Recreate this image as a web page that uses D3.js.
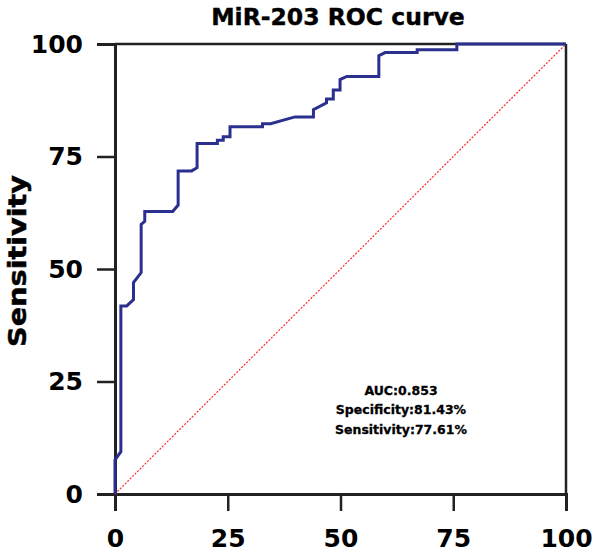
<!DOCTYPE html>
<html><head><meta charset="utf-8">
<script src="https://cdn.jsdelivr.net/npm/d3@7"></script>
<style>body{margin:0;background:#fff}svg{display:block}text{font-family:"DejaVu Sans",sans-serif;font-weight:bold;fill:#000}</style>
</head><body>
<script>
const fpr = [0,0,1.3,1.3,2.6,4.1,4.1,5.8,5.8,6.6,6.6,12.8,14.0,14.0,17.0,18.2,18.2,22.7,22.7,24.0,24.0,25.5,25.5,32.7,32.7,34.5,39.9,44.0,44.0,46.9,46.9,48.4,48.4,49.9,49.9,51.4,58.5,58.5,59.9,67.0,67.0,75.8,75.8,100];
const tpr = [0,7.6,9.4,41.8,41.8,43.2,47.0,49.2,59.9,60.6,62.8,62.8,64.2,71.8,71.8,72.5,77.9,77.9,78.6,78.6,79.4,79.4,81.6,81.6,82.3,82.3,83.8,83.8,85.4,86.9,87.8,87.8,89.8,89.8,92.1,92.8,92.8,97.4,98.1,98.1,98.7,98.7,100,100];
const tickValues = [0,25,50,75,100];
const title = "MiR-203 ROC curve";
const yLabel = "Sensitivity";
const stats = ["AUC:0.853","Specificity:81.43%","Sensitivity:77.61%"];

const W=600,H=558;
const svg=d3.select("body").append("svg").attr("width",W).attr("height",H);
const x=d3.scaleLinear().domain([0,100]).range([115,566]);
const y=d3.scaleLinear().domain([0,100]).range([494,44]);
const axisColor="#222";

// frame
svg.append("line").attr("x1",x(0)).attr("x2",x(100)).attr("y1",y(100)).attr("y2",y(100)).attr("stroke",axisColor).attr("stroke-width",2.5);
svg.append("line").attr("x1",x(100)).attr("x2",x(100)).attr("y1",y(0)).attr("y2",y(100)).attr("stroke",axisColor).attr("stroke-width",2.5);

const xa=svg.append("g").attr("transform",`translate(0,${y(0)})`)
  .call(d3.axisBottom(x).tickValues(tickValues).tickSize(17).tickPadding(18).tickFormat(d3.format("d")));
const ya=svg.append("g").attr("transform",`translate(${x(0)},0)`)
  .call(d3.axisLeft(y).tickValues(tickValues).tickSize(18).tickPadding(14).tickFormat(d3.format("d")));
[xa,ya].forEach(g=>{
  g.select(".domain").attr("stroke",axisColor).attr("stroke-width",3);
  g.selectAll(".tick line").attr("stroke",axisColor).attr("stroke-width",2.5);
  g.selectAll(".tick text").style("font-size","25px").style("font-family","'DejaVu Sans',sans-serif").style("font-weight","bold").attr("fill","#000");
});
xa.selectAll(".tick text").attr("dy","0.71em");

// diagonal reference
svg.append("line").attr("x1",x(0)).attr("y1",y(0)).attr("x2",x(100)).attr("y2",y(100))
  .attr("stroke","#ff2a2a").attr("stroke-width",1.2).attr("stroke-dasharray","2,1.5");

// ROC curve
const pts=fpr.map((f,i)=>[f,tpr[i]]);
svg.append("path").datum(pts).attr("fill","none").attr("stroke","#2b2f8e").attr("stroke-width",3)
  .attr("stroke-linejoin","miter")
  .attr("d",d3.line().x(d=>x(d[0])).y(d=>y(d[1])));

svg.append("text").attr("x",338).attr("y",25).attr("text-anchor","middle").style("font-size","23.5px")
  .attr("stroke","#000").attr("stroke-width",0.4).text(title);
svg.append("text").attr("transform","translate(26,261) rotate(-90)").attr("text-anchor","middle")
  .attr("textLength",172).attr("lengthAdjust","spacingAndGlyphs").style("font-size","25px")
  .attr("stroke","#000").attr("stroke-width",0.5).text(yLabel);

const statY=[395,414,434];
svg.selectAll("text.stat").data(stats).enter().append("text").attr("class","stat")
  .attr("x",401).attr("y",(d,i)=>statY[i]).attr("text-anchor","middle").style("font-size","12.5px")
  .attr("stroke","#000").attr("stroke-width",0.3).text(d=>d);
</script>
</body></html>
